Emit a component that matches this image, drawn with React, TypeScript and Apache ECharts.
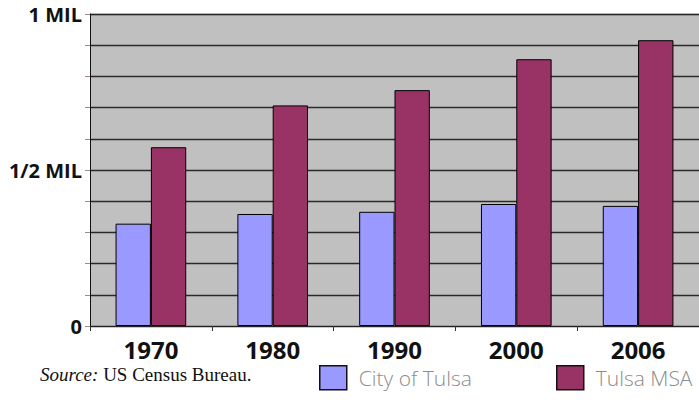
import React, { useEffect, useRef } from "react";
import * as echarts from "echarts";

const years = ["1970", "1980", "1990", "2000", "2006"];
const cityOfTulsa = [328000, 359000, 366000, 391000, 385000];
const tulsaMSA = [573000, 707000, 756000, 855000, 916000];
const yLabels: Record<number, string> = { 0: "0", 500000: "1/2 MIL", 1000000: "1 MIL" };

export default function App() {
  const ref = useRef<HTMLDivElement>(null);
  useEffect(() => {
    const chart = echarts.init(ref.current!, null, { renderer: "svg" });
    const legendText = {
      color: "#8c8c8c", fontSize: 21, fontFamily: "Open Sans", fontWeight: 300 as any,
      padding: [0, 0, 0, 7],
    };
    const legendCommon = {
      top: 360, itemWidth: 27, itemHeight: 24, icon: "rect",
      textStyle: legendText, itemStyle: { borderWidth: 1.5, borderColor: "#111" },
    };
    chart.setOption({
      animation: false,
      backgroundColor: "#fff",
      grid: { left: 90, right: 0, top: 14, bottom: 89, backgroundColor: "#c0c0c0", show: true, borderWidth: 0 },
      legend: [
        { ...legendCommon, data: ["City of Tulsa"], left: 314 },
        { ...legendCommon, data: ["Tulsa MSA"], left: 551 },
      ],
      graphic: [
        {
          type: "text", left: 40, top: 365,
          style: {
            text: "{i|Source:} US Census Bureau.",
            font: "19px 'Liberation Serif'",
            fill: "#111",
            rich: { i: { fontStyle: "italic", fontFamily: "Liberation Serif", fontSize: 19, fill: "#111" } },
          },
        },
        {
          type: "line", shape: { x1: 90, y1: 14.5, x2: 699, y2: 14.5 },
          style: { stroke: "#8a8a8a", lineWidth: 1.5 },
        },
      ],
      xAxis: {
        type: "category", data: years,
        axisLine: { lineStyle: { color: "#222", width: 1 } },
        axisTick: { show: true, length: 5, lineStyle: { color: "#333" } },
        axisLabel: { color: "#111", fontSize: 24, fontWeight: "bold", fontFamily: "Open Sans", margin: 11 },
      },
      yAxis: {
        type: "value", min: 0, max: 1000000, interval: 100000,
        axisLine: { show: true, lineStyle: { color: "#111", width: 1 } },
        axisTick: { show: true, length: 5, lineStyle: { color: "#a08888" } },
        splitLine: { lineStyle: { color: "#2a2a2a", width: 1.3 } },
        axisLabel: {
          color: "#111", fontSize: 20, fontWeight: "bold", fontFamily: "Open Sans", margin: 8,
          formatter: (v: number) => yLabels[v] ?? "",
        },
      },
      series: [
        {
          name: "City of Tulsa", type: "bar", data: cityOfTulsa, barGap: "0%", barCategoryGap: "42%",
          itemStyle: { color: "#9999ff", borderColor: "#000", borderWidth: 1 },
        },
        {
          name: "Tulsa MSA", type: "bar", data: tulsaMSA,
          itemStyle: { color: "#993366", borderColor: "#000", borderWidth: 1 },
        },
      ],
    });
    return () => chart.dispose();
  }, []);
  return <div ref={ref} style={{ width: 699, height: 415, position: "absolute", left: 0, top: 0 }} />;
}
